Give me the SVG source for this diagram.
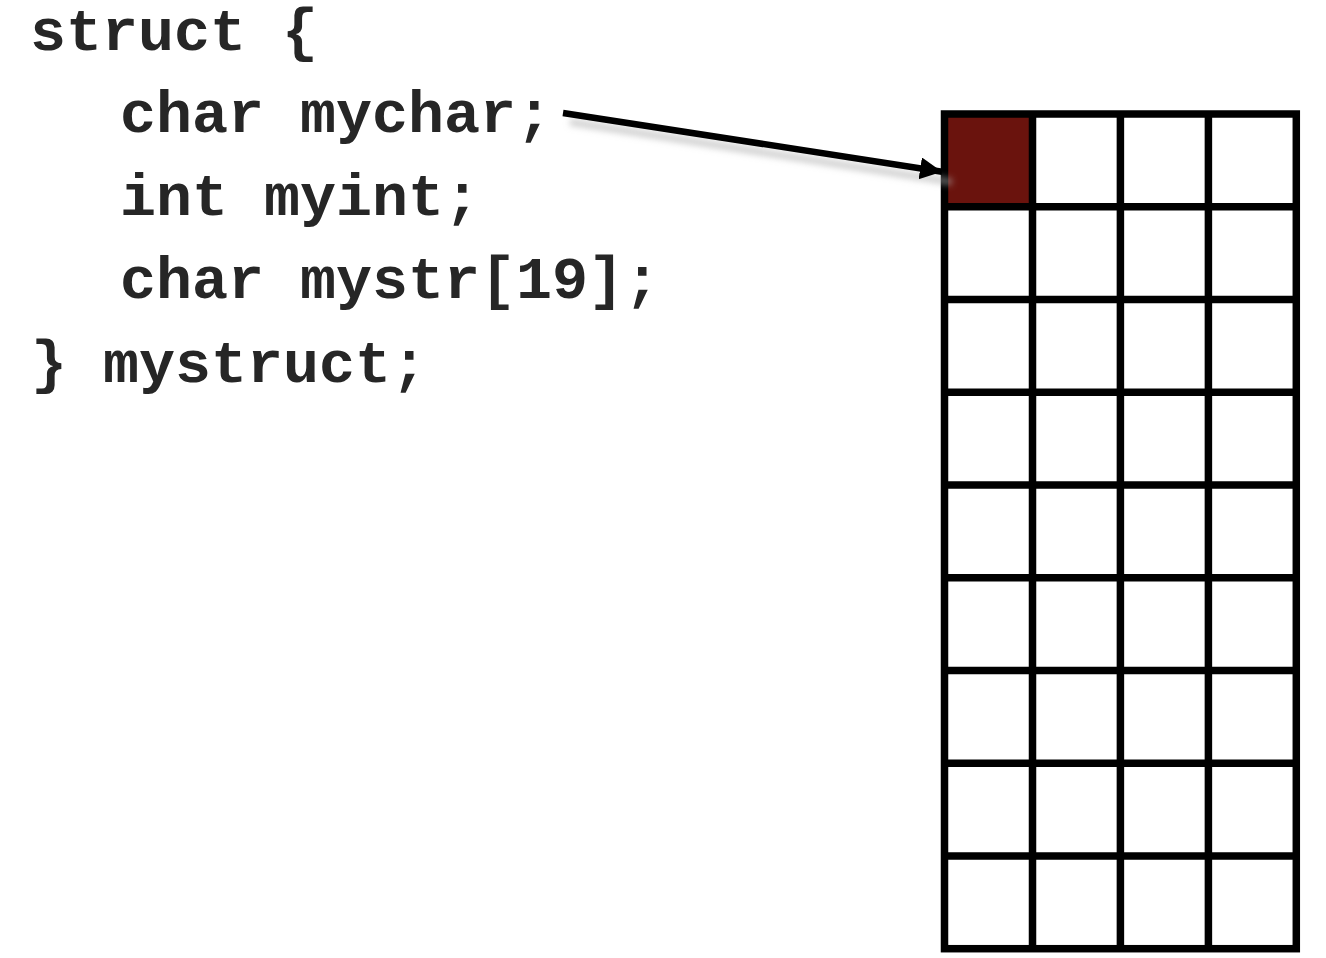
<svg xmlns="http://www.w3.org/2000/svg" width="1326" height="958" viewBox="0 0 1326 958">
<style>
.code{font-family:"Liberation Mono","Courier New",monospace;font-weight:bold;font-size:60px;fill:#262626}
.grid{stroke:#000;stroke-width:7.5;fill:none}
</style>
<defs>
<marker id="ah" markerUnits="userSpaceOnUse" markerWidth="24" markerHeight="26" refX="22" refY="11" orient="auto">
<path d="M0,0 L22,11 L0,22 Z" fill="#000"/>
</marker>
<filter id="blur" x="-10%" y="-200%" width="120%" height="500%">
<feGaussianBlur stdDeviation="3"/>
</filter>
</defs>
<rect width="1326" height="958" fill="#fff"/>
<g id="code">
<text class="code" x="30" y="50">struct {</text>
<text class="code" x="120" y="132">char mychar;</text>
<text class="code" x="120" y="215">int myint;</text>
<text class="code" x="120" y="298">char mystr[19];</text>
<text class="code" x="31" y="382">} mystruct;</text>
</g>
<g id="memory">
<rect x="944.5" y="114" width="88" height="92.7" fill="#6a130d"/>
<rect class="grid" x="944.5" y="114" width="351.8" height="834.7"/>
<path class="grid" d="M1032.5,114V948.7M1120.4,114V948.7M1208.4,114V948.7M944.5,206.7H1296.3M944.5,299.5H1296.3M944.5,392.2H1296.3M944.5,485H1296.3M944.5,577.7H1296.3M944.5,670.4H1296.3M944.5,763.2H1296.3M944.5,855.9H1296.3"/>
</g>
<g id="connectors">
<line x1="570" y1="122" x2="952" y2="182" stroke="#aaa" stroke-opacity="0.55" stroke-width="7" filter="url(#blur)"/>
<line x1="563" y1="113" x2="942" y2="171.7" stroke="#000" stroke-width="6.5" marker-end="url(#ah)"/>
</g>
</svg>
